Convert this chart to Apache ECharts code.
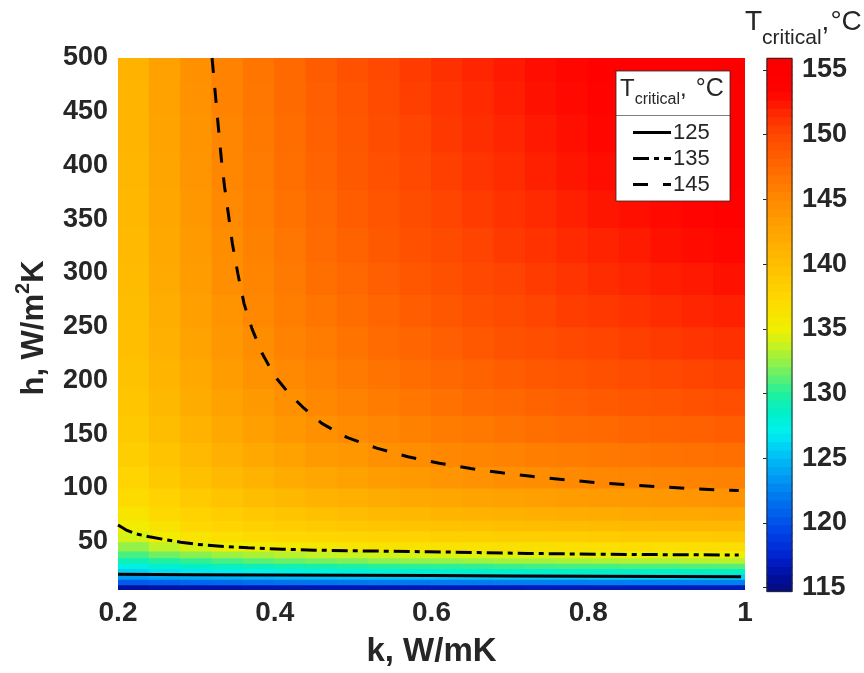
<!DOCTYPE html>
<html>
<head>
<meta charset="utf-8">
<title>Critical temperature map</title>
<script src="https://cdn.jsdelivr.net/npm/echarts@6.0.0/dist/echarts.min.js"></script>
<style>
  html, body { margin: 0; padding: 0; background: #ffffff; }
  #chart { width: 864px; height: 673px; }
</style>
</head>
<body>
<div id="chart"></div>
<script>
// Thermal conductivity k (W/mK) at the centre of each map column
const kValues = [0.22, 0.26, 0.30, 0.34, 0.38, 0.42, 0.46, 0.50, 0.54, 0.58,
                 0.62, 0.66, 0.70, 0.74, 0.78, 0.82, 0.86, 0.90, 0.94, 0.98];

// Heat transfer coefficient h (W/m2K) at the centre of each map row
const hValues = [7.5, 12.5, 17.5, 22.5, 27.5, 32.5, 37.5, 45, 55, 65, 75, 90, 110,
                 130, 155, 180, 205, 235, 265, 295, 325, 360, 395, 430, 465, 492.5];

// Critical temperature (°C): one row per h value, one entry per k value
const tCritical = [
  [116.1,116.3,116.4,116.4,116.5,116.5,116.6,116.6,116.6,116.7,116.7,116.7,116.7,116.8,116.8,116.8,116.8,116.8,116.8,116.8],
  [120.5,120.8,121.1,121.3,121.5,121.7,121.8,121.9,122.0,122.0,122.1,122.1,122.2,122.2,122.2,122.3,122.3,122.3,122.3,122.3],
  [123.6,124.0,124.3,124.5,124.7,124.9,125.0,125.2,125.3,125.4,125.4,125.5,125.6,125.6,125.7,125.8,125.8,125.8,125.9,125.9],
  [125.8,126.3,126.7,127.0,127.2,127.4,127.6,127.7,127.9,128.0,128.1,128.2,128.2,128.3,128.4,128.4,128.5,128.5,128.6,128.6],
  [127.6,128.2,128.6,128.9,129.2,129.5,129.7,129.9,130.1,130.2,130.3,130.4,130.6,130.7,130.8,130.8,130.9,130.9,131.0,131.1],
  [129.2,129.9,130.4,130.8,131.2,131.5,131.8,132.0,132.3,132.4,132.5,132.7,132.9,132.9,133.0,133.1,133.2,133.2,133.3,133.4],
  [130.8,131.6,132.2,132.7,133.0,133.4,133.7,133.9,134.1,134.3,134.4,134.5,134.6,134.6,134.7,134.8,134.9,134.8,134.9,135.0],
  [132.5,133.6,134.3,134.9,135.3,135.6,135.8,136.1,136.3,136.4,136.5,136.5,136.6,136.6,136.7,136.7,136.8,136.7,136.8,136.9],
  [134.2,135.4,136.2,136.7,137.1,137.4,137.6,137.8,137.9,138.0,138.2,138.2,138.4,138.4,138.5,138.6,138.7,138.7,138.8,138.9],
  [135.4,136.5,137.4,137.8,138.2,138.5,138.8,139.1,139.2,139.4,139.7,139.8,139.9,140.1,140.2,140.3,140.4,140.5,140.6,140.7],
  [136.1,137.3,138.0,138.5,139.0,139.4,139.8,140.2,140.4,140.6,140.9,141.1,141.3,141.5,141.7,141.8,142.0,142.1,142.2,142.3],
  [137.1,138.0,138.8,139.5,140.1,140.6,141.1,141.5,141.8,142.1,142.4,142.7,142.9,143.1,143.3,143.5,143.6,143.8,143.9,144.1],
  [137.8,138.9,139.8,140.5,141.2,141.9,142.4,142.8,143.2,143.6,143.9,144.2,144.5,144.7,145.0,145.1,145.3,145.4,145.6,145.7],
  [138.4,139.5,140.5,141.4,142.1,142.8,143.4,143.8,144.3,144.7,145.1,145.4,145.6,145.9,146.1,146.3,146.5,146.7,146.9,147.0],
  [138.9,140.1,141.2,142.2,143.0,143.7,144.3,144.9,145.3,145.7,146.1,146.4,146.7,147.0,147.3,147.5,147.8,148.0,148.2,148.4],
  [139.2,140.6,141.8,142.8,143.6,144.4,145.1,145.6,146.1,146.5,146.9,147.3,147.6,148.0,148.3,148.6,148.9,149.1,149.3,149.5],
  [139.6,141.0,142.2,143.3,144.2,145.0,145.6,146.2,146.7,147.2,147.6,148.0,148.4,148.8,149.1,149.4,149.7,149.9,150.2,150.4],
  [139.9,141.4,142.7,143.7,144.7,145.5,146.1,146.7,147.3,147.8,148.3,148.8,149.2,149.5,149.9,150.2,150.5,150.8,151.1,151.3],
  [140.1,141.7,143.0,144.1,145.1,145.9,146.6,147.2,147.8,148.4,148.9,149.4,149.8,150.2,150.6,150.9,151.2,151.5,151.8,152.0],
  [140.3,142.0,143.3,144.5,145.4,146.2,147.0,147.6,148.3,148.9,149.4,149.9,150.3,150.7,151.1,151.5,151.8,152.1,152.3,152.6],
  [140.5,142.2,143.5,144.7,145.7,146.5,147.3,148.0,148.7,149.3,149.8,150.3,150.8,151.2,151.6,151.9,152.2,152.6,152.9,153.1],
  [140.7,142.3,143.7,145.0,145.9,146.8,147.6,148.4,149.0,149.6,150.2,150.7,151.2,151.6,152.0,152.4,152.7,153.0,153.3,153.6],
  [140.8,142.5,143.9,145.2,146.1,147.0,147.9,148.7,149.3,150.0,150.5,151.1,151.5,152.0,152.4,152.8,153.1,153.4,153.7,154.0],
  [140.9,142.7,144.1,145.3,146.3,147.2,148.1,148.9,149.6,150.2,150.9,151.4,151.8,152.3,152.7,153.1,153.5,153.8,154.1,154.4],
  [141.0,142.8,144.2,145.5,146.5,147.4,148.3,149.1,149.8,150.5,151.1,151.6,152.1,152.6,153.0,153.4,153.8,154.1,154.4,154.7],
  [141.1,142.9,144.3,145.6,146.6,147.5,148.5,149.3,150.0,150.7,151.3,151.8,152.3,152.8,153.2,153.6,154.0,154.3,154.7,155.0]
];

// Iso-temperature lines as [k, h] pairs
const iso125 = [[0.200, 19.6], [0.300, 19.3], [0.400, 19.0], [0.500, 18.7], [0.600, 18.4],
                [0.700, 18.1], [0.800, 17.9], [0.900, 17.6], [0.995, 17.4]];
const iso135 = [[0.200, 65.5], [0.210, 61.0], [0.221, 57.6], [0.240, 54.5], [0.259, 52.0],
                [0.280, 49.5], [0.302, 47.4], [0.335, 45.5], [0.366, 44.3], [0.410, 43.0],
                [0.451, 42.1], [0.520, 41.3], [0.596, 40.6], [0.660, 39.8], [0.723, 39.0],
                [0.790, 38.5], [0.851, 38.1], [0.920, 37.8], [0.992, 37.5]];
const iso145 = [[0.320, 500], [0.324, 468], [0.328, 436], [0.332, 405], [0.336, 380],
                [0.341, 354], [0.346, 327], [0.353, 299], [0.361, 271], [0.371, 248],
                [0.384, 225], [0.400, 204], [0.418, 188], [0.436, 175], [0.460, 160],
                [0.492, 147], [0.530, 137], [0.570, 129], [0.610, 123], [0.650, 118],
                [0.690, 114], [0.730, 110.5], [0.770, 107.5], [0.810, 105], [0.850, 103],
                [0.890, 101], [0.930, 99.5], [0.970, 98], [0.992, 97.5]];
const isoLabels = ['125', '135', '145'];

// Axis ticks
const kTicks = [0.2, 0.4, 0.6, 0.8, 1];
const hTicks = [50, 100, 150, 200, 250, 300, 350, 400, 450, 500];
const colorbarTicks = [115, 120, 125, 130, 135, 140, 145, 150, 155];

// Extents of the map and of the colour scale
const kRange = [0.2, 1];
const hRange = [5, 500];
const tRange = [114.7, 155.9];

// ---------------------------------------------------------------------------
const FONT = "'Liberation Sans', Arial, Helvetica, sans-serif";
const INK = '#262626';

// Jet-like colour ramp, value -> colour
const rampStops = [
  [114.7, [5, 12, 125]], [116.0, [0, 15, 160]], [117.5, [0, 35, 210]],
  [119.5, [0, 70, 232]], [121.5, [0, 110, 238]], [123.5, [0, 152, 242]],
  [125.5, [0, 200, 246]], [127.0, [0, 240, 242]], [128.5, [0, 240, 200]],
  [130.0, [30, 240, 160]], [131.6, [110, 240, 100]], [133.5, [190, 242, 40]],
  [135.0, [240, 240, 0]], [137.5, [255, 215, 0]], [140.0, [255, 190, 0]],
  [142.5, [255, 165, 0]], [145.0, [255, 138, 0]], [147.5, [255, 105, 0]],
  [150.0, [255, 72, 0]], [151.5, [255, 45, 0]], [152.8, [255, 12, 0]],
  [153.5, [255, 0, 0]], [155.9, [250, 0, 0]]
];
function rampColor(v) {
  for (let i = 1; i < rampStops.length; i++) {
    const a = rampStops[i - 1], b = rampStops[i];
    if (v <= b[0] || i === rampStops.length - 1) {
      const t = Math.max(0, Math.min(1, (v - a[0]) / (b[0] - a[0])));
      const c = a[1].map((x, j) => Math.round(x + (b[1][j] - x) * t));
      return 'rgb(' + c.join(',') + ')';
    }
  }
}
const palette = [];
for (let i = 0; i < 64; i++) {
  palette.push(rampColor(tRange[0] + (tRange[1] - tRange[0]) * i / 63));
}

// Map cells: [kLow, kHigh, hLow, hHigh, T]
function edges(centres, range) {
  return centres.map((c, i) => [
    i === 0 ? range[0] : (centres[i - 1] + c) / 2,
    i === centres.length - 1 ? range[1] : (c + centres[i + 1]) / 2
  ]);
}
const kEdges = edges(kValues, kRange);
const hEdges = edges(hValues, hRange);
const cells = [];
hValues.forEach((h, r) => {
  kValues.forEach((k, c) => {
    cells.push([kEdges[c][0], kEdges[c][1], hEdges[r][0], hEdges[r][1], tCritical[r][c]]);
  });
});

// Colour bar bands, same layout as the cells so one visualMap colours both
const bandCount = 64;
const bands = [];
for (let i = 0; i < bandCount; i++) {
  const lo = tRange[0] + (tRange[1] - tRange[0]) * i / bandCount;
  const hi = tRange[0] + (tRange[1] - tRange[0]) * (i + 1) / bandCount;
  bands.push([0, 1, lo, hi, (lo + hi) / 2]);
}

function rectItem(params, api) {
  const p1 = api.coord([api.value(0), api.value(3)]);
  const p2 = api.coord([api.value(1), api.value(2)]);
  return {
    type: 'rect',
    shape: { x: p1[0] - 0.5, y: p1[1] - 0.5, width: p2[0] - p1[0] + 1, height: p2[1] - p1[1] + 1 },
    style: { fill: api.visual('color') }
  };
}

// Text runs with mixed sizes (super/subscripts)
const measureCtx = document.createElement('canvas').getContext('2d');
function run(pieces, x0, y0, opts) {
  opts = opts || {};
  let x = 0;
  const children = [];
  pieces.forEach(p => {
    const font = (p.weight || 'normal') + ' ' + p.size + 'px ' + FONT;
    measureCtx.font = font;
    children.push({
      type: 'text', x: x, y: p.dy || 0, silent: true, z: opts.z || 5,
      style: { text: p.text, font: font, fill: INK, textAlign: 'left', textVerticalAlign: 'middle',
               align: 'left', verticalAlign: 'middle' }
    });
    x += measureCtx.measureText(p.text).width + (p.gap || 0);
  });
  if (opts.centre) children.forEach(c => { c.x -= x / 2; });
  return { type: 'group', x: x0, y: y0, rotation: opts.rotation || 0, z: opts.z || 5, children: children };
}

// Legend of the iso-temperature lines
const lineStyles = [
  { lineDash: null },
  { lineDash: [16, 5, 5, 5] },
  { lineDash: [15, 15] }
];
const legendRows = [132.5, 158.5, 184.5];
const legendGraphics = [
  { type: 'rect', shape: { x: 616, y: 71, width: 114, height: 130 },
    style: { fill: '#ffffff', stroke: INK, lineWidth: 0.8 }, z: 10 },
  { type: 'line', shape: { x1: 616, y1: 115.5, x2: 730, y2: 115.5 },
    style: { stroke: INK, lineWidth: 0.6 }, z: 10 },
  run([
    { text: 'T', size: 24 },
    { text: 'critical', size: 16, dy: 11 },
    { text: ',', size: 24, gap: 9 },
    { text: '°C', size: 25 }
  ], 620, 89, { z: 11 })
];
isoLabels.forEach((lab, i) => {
  const y = legendRows[i];
  const st = { stroke: '#000000', lineWidth: 3 };
  if (lineStyles[i].lineDash) st.lineDash = lineStyles[i].lineDash;
  legendGraphics.push({ type: 'line', z: 11, shape: { x1: 633, y1: y, x2: 671, y2: y }, style: st });
  legendGraphics.push({ type: 'text', z: 11, x: 673, y: y,
    style: { text: lab, font: '22px ' + FONT, fill: INK, textVerticalAlign: 'middle', verticalAlign: 'middle' } });
});

const graphics = legendGraphics.concat([
  // y axis title with superscript
  run([
    { text: 'h, W/m', size: 31, weight: 'bold' },
    { text: '2', size: 20, weight: 'bold', dy: -11 },
    { text: 'K', size: 31, weight: 'bold' }
  ], 34, 328, { rotation: Math.PI / 2, centre: true }),
  // colour bar title with subscript
  run([
    { text: 'T', size: 28 },
    { text: 'critical', size: 21, dy: 16 },
    { text: ',', size: 28, gap: 1 },
    { text: '°C', size: 28 }
  ], 745, 22)
]);

function isoSeries(data, i) {
  return {
    type: 'line', data: data, xAxisIndex: 0, yAxisIndex: 0, symbol: 'none', z: 4,
    silent: true, clip: true,
    lineStyle: { color: '#000000', width: 3, type: lineStyles[i].lineDash || 'solid' }
  };
}

const labelStyle = { fontFamily: FONT, fontWeight: 'bold', fontSize: 27, color: INK };

const chart = echarts.init(document.getElementById('chart'), null, { renderer: 'canvas' });
chart.setOption({
  animation: false,
  backgroundColor: '#ffffff',
  grid: [
    { left: 118, right: 119, top: 58, bottom: 81 },
    { left: 767, width: 25, top: 70, height: 517.7 }
  ],
  xAxis: [
    {
      type: 'value', gridIndex: 0, min: kRange[0], max: kRange[1],
      axisLine: { show: false }, axisTick: { show: false }, splitLine: { show: false },
      axisLabel: Object.assign({}, labelStyle, { customValues: kTicks, margin: 9, fontSize: 28,
        formatter: v => String(+(+v).toFixed(1)) }),
      name: 'k, W/mK', nameLocation: 'middle', nameGap: 45,
      nameTextStyle: { fontFamily: FONT, fontWeight: 'bold', fontSize: 33, color: INK }
    },
    { type: 'value', gridIndex: 1, min: 0, max: 1, show: false }
  ],
  yAxis: [
    {
      type: 'value', gridIndex: 0, min: hRange[0], max: hRange[1],
      axisLine: { show: false }, axisTick: { show: false }, splitLine: { show: false },
      axisLabel: Object.assign({}, labelStyle, { customValues: hTicks, margin: 10 })
    },
    {
      type: 'value', gridIndex: 1, min: 115, max: 155, interval: 5, position: 'right',
      axisLine: { show: false }, splitLine: { show: false },
      axisTick: { show: true, inside: true, length: 4, lineStyle: { color: INK, width: 1 } },
      axisLabel: Object.assign({}, labelStyle, { customValues: colorbarTicks, margin: 10 })
    }
  ],
  visualMap: {
    type: 'continuous', show: false, min: tRange[0], max: tRange[1],
    dimension: 4, seriesIndex: [0, 1], inRange: { color: palette }
  },
  series: [
    { type: 'custom', xAxisIndex: 0, yAxisIndex: 0, data: cells, renderItem: rectItem,
      encode: { x: [0, 1], y: [2, 3] }, silent: true, z: 1, clip: true },
    { type: 'custom', xAxisIndex: 1, yAxisIndex: 1, data: bands, renderItem: rectItem,
      encode: { x: [0, 1], y: [2, 3] }, silent: true, z: 1 },
    { type: 'custom', xAxisIndex: 1, yAxisIndex: 1, data: [[0, 1, tRange[0], tRange[1]]],
      encode: { x: [0, 1], y: [2, 3] }, silent: true, z: 3,
      renderItem: (params, api) => {
        const p1 = api.coord([api.value(0), api.value(3)]);
        const p2 = api.coord([api.value(1), api.value(2)]);
        return { type: 'rect', shape: { x: p1[0], y: p1[1], width: p2[0] - p1[0], height: p2[1] - p1[1] },
                 style: { fill: 'none', stroke: INK, lineWidth: 1 } };
      } },
    isoSeries(iso125, 0),
    isoSeries(iso135, 1),
    isoSeries(iso145, 2)
  ],
  graphic: graphics
});
</script>
</body>
</html>
